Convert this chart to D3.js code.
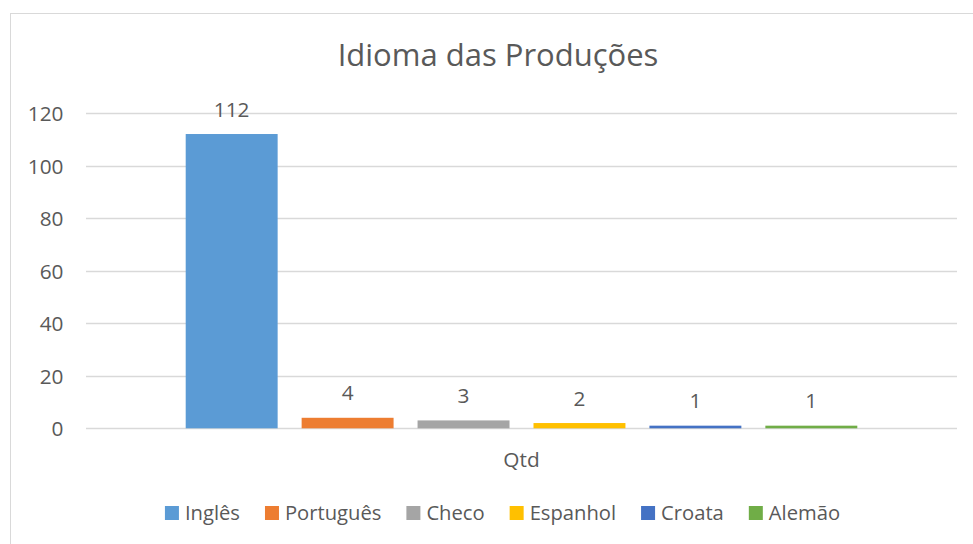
<!DOCTYPE html>
<html><head><meta charset="utf-8">
<script src="https://cdn.jsdelivr.net/npm/d3@7/dist/d3.min.js"></script>
<style>
html,body{margin:0;padding:0;background:#fff;}
svg text{font-family:"Open Sans",sans-serif;fill:#595959;}
</style></head>
<body>
<svg id="chart" width="973" height="544"></svg>
<script>
const title = "Idioma das Produções";
const category = "Qtd";
const series = ["Inglês","Português","Checo","Espanhol","Croata","Alemão"];
const values = [112,4,3,2,1,1];
const colors = ["#5B9BD5","#ED7D31","#A5A5A5","#FFC000","#4472C4","#70AD47"];
const yTicks = [0,20,40,60,80,100,120];

const FONT = '"Open Sans",sans-serif';
const svg = d3.select("#chart");
// chart border
svg.append("rect").attr("x",10.5).attr("y",13.5).attr("width",980).attr("height",560)
  .attr("fill","#fff").attr("stroke","#D9D9D9").attr("stroke-width",1);

const plot = {left:86, right:957, top:113, bottom:428.3};
const y = d3.scaleLinear().domain([0,120]).range([plot.bottom, plot.top]);
const x0 = d3.scaleBand().domain([category]).range([plot.left, plot.right]);
const x1 = d3.scaleBand().domain(series).range([0, x0.bandwidth()])
  .paddingInner(24/116).paddingOuter(0.86);

// gridlines
svg.append("g").selectAll("line").data(yTicks).join("line")
  .attr("x1",plot.left).attr("x2",plot.right)
  .attr("y1",d=>Math.round(y(d))+0.5).attr("y2",d=>Math.round(y(d))+0.5)
  .attr("stroke","#D9D9D9").attr("stroke-width",1.3);

// y axis labels
const yAxis = d3.axisLeft(y).tickValues(yTicks).tickSize(0).tickPadding(0);
const ga = svg.append("g").attr("transform",`translate(63.5,0)`).call(yAxis);
ga.select(".domain").remove();
ga.selectAll("text").attr("font-size",20.8).attr("fill","#595959")
  .style("font-family",FONT).attr("dy","0.36em");

// bars
const g = svg.append("g").attr("transform",`translate(${x0(category)},0)`);
g.selectAll("rect").data(series).join("rect")
  .attr("x",d=>x1(d)).attr("width",x1.bandwidth())
  .attr("y",(d,i)=>y(values[i])).attr("height",(d,i)=>y(0)-y(values[i]))
  .attr("fill",(d,i)=>colors[i]);
g.selectAll("text").data(series).join("text")
  .attr("x",d=>x1(d)+x1.bandwidth()/2).attr("y",(d,i)=>y(values[i])-17.5)
  .attr("text-anchor","middle").attr("font-size",20.8).text((d,i)=>values[i]);

// category label
svg.append("text").attr("x",x0(category)+x0.bandwidth()/2).attr("y",467)
  .attr("text-anchor","middle").attr("font-size",20.8).text(category);

// title
svg.append("text").attr("x",498).attr("y",66).attr("text-anchor","middle")
  .attr("font-size",31).text(title);

// legend
const lg = svg.append("g");
const items = lg.selectAll("g").data(series).join("g");
items.append("rect").attr("width",14).attr("height",14).attr("y",-14).attr("fill",(d,i)=>colors[i]);
items.append("text").attr("x",20).attr("y",0).attr("font-size",20.2).text(d=>d);
let cx = 0; const gap = 25;
items.each(function(d){
  const tw = d3.select(this).select("text").node().getComputedTextLength();
  d3.select(this).attr("transform",`translate(${cx},0)`);
  cx += 20 + tw + gap;
});
const total = cx - gap;
lg.attr("transform",`translate(${502.5-total/2},520)`);
</script>
</body></html>
